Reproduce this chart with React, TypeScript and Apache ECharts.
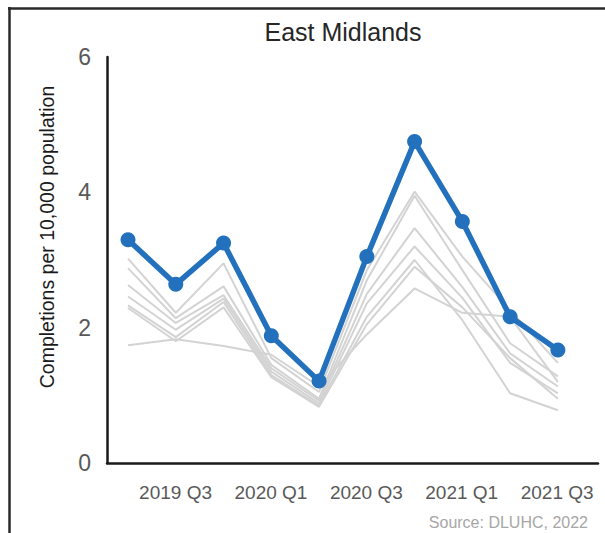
import React, { useEffect, useRef } from "react";
import * as echarts from "echarts";

const categories = ["2019 Q2", "2019 Q3", "2019 Q4", "2020 Q1", "2020 Q2", "2020 Q3", "2020 Q4", "2021 Q1", "2021 Q2", "2021 Q3"];
const eastMidlands = [3.3, 2.64, 3.25, 1.88, 1.21, 3.05, 4.75, 3.57, 2.16, 1.67];
const otherRegion1 = [3.02, 2.22, 2.95, 1.55, 1.05, 2.85, 4.01, 3.05, 2.26, 1.48];
const otherRegion2 = [2.88, 2.14, 2.61, 1.45, 0.95, 2.7, 3.95, 2.85, 1.77, 1.28];
const otherRegion3 = [2.63, 2.07, 2.48, 1.4, 0.92, 2.5, 3.47, 2.6, 1.62, 1.13];
const otherRegion4 = [2.46, 1.97, 2.43, 1.35, 0.88, 2.36, 3.2, 2.44, 1.48, 1.03];
const otherRegion5 = [2.33, 1.86, 2.38, 1.3, 0.85, 2.16, 3.0, 2.11, 1.03, 0.78];
const otherRegion6 = [2.29, 1.8, 2.3, 1.27, 0.83, 2.05, 2.9, 2.3, 1.55, 0.95];
const otherRegion7 = [1.74, 1.83, 1.73, 1.6, 1.13, 1.9, 2.58, 2.22, 2.16, 1.2];
const otherRegions = [otherRegion1, otherRegion2, otherRegion3, otherRegion4, otherRegion5, otherRegion6, otherRegion7];
const yTicks = [0, 2, 4, 6];

const FONT = "'Liberation Sans', Arial, sans-serif";

export default function App() {
  const ref = useRef<HTMLDivElement>(null);
  useEffect(() => {
    if (!ref.current) return;
    const chart = echarts.init(ref.current, null, { renderer: "svg" });
    const greySeries = otherRegions.map((vals, k) => ({
      type: "line",
      name: "Other region " + (k + 1),
      xAxisIndex: 0,
      yAxisIndex: 0,
      data: vals.map((v, i) => [i, v]),
      symbol: "none",
      silent: true,
      z: 2,
      lineStyle: { color: "#d3d3d3", width: 2 },
    }));
    chart.setOption({
      animation: false,
      backgroundColor: "#ffffff",
      title: {
        text: "East Midlands",
        left: 338,
        top: 14,
        textAlign: "center",
        textStyle: { fontFamily: FONT, fontSize: 25, fontWeight: "normal", color: "#262626" },
      },
      grid: [
        { left: 107, right: 7, top: 57, bottom: 70 },
        { left: 104, right: 24, top: 57, bottom: 70 },
      ],
      xAxis: [
        {
          type: "value",
          gridIndex: 0,
          min: -0.44,
          max: 9.84,
          axisLine: { show: true, onZero: false, lineStyle: { color: "#1a1a1a", width: 2.5 } },
          axisTick: { show: false },
          axisLabel: { show: false },
          splitLine: { show: false },
        },
        {
          type: "category",
          gridIndex: 1,
          data: categories,
          boundaryGap: true,
          axisLine: { show: false },
          axisTick: { show: false },
          splitLine: { show: false },
          axisLabel: {
            interval: 0,
            formatter: (v: string, i: number) => (i % 2 === 1 ? v : ""),
            fontFamily: FONT,
            fontSize: 19,
            color: "#595959",
            margin: 20,
          },
        },
      ],
      yAxis: [
        {
          type: "value",
          gridIndex: 0,
          min: yTicks[0],
          max: yTicks[yTicks.length - 1],
          interval: 2,
          axisLine: { show: true, onZero: false, lineStyle: { color: "#1a1a1a", width: 2.5 } },
          axisTick: { show: false },
          splitLine: { show: false },
          axisLabel: { fontFamily: FONT, fontSize: 23, color: "#595959", margin: 16 },
        },
        { type: "value", gridIndex: 1, min: 0, max: 6, show: false },
      ],
      graphic: [
        { type: "line", shape: { x1: 9.5, y1: 7, x2: 9.5, y2: 533 }, style: { stroke: "#2a2a2a", lineWidth: 2.5 } },
        { type: "line", shape: { x1: 8, y1: 8.5, x2: 605, y2: 8.5 }, style: { stroke: "#2a2a2a", lineWidth: 2.5 } },
        {
          type: "text",
          x: 47,
          y: 237,
          rotation: Math.PI / 2,
          style: {
            text: "Completions per 10,000 population",
            textAlign: "center",
            textVerticalAlign: "middle",
            font: "19.5px " + FONT,
            fill: "#1a1a1a",
          },
        },
        {
          type: "text",
          x: 588,
          y: 522,
          style: {
            text: "Source: DLUHC, 2022",
            textAlign: "right",
            textVerticalAlign: "middle",
            font: "16px " + FONT,
            fill: "#a6a6a6",
          },
        },
      ],
      series: [
        ...greySeries,
        {
          type: "line",
          name: "East Midlands",
          xAxisIndex: 0,
          yAxisIndex: 0,
          data: eastMidlands.map((v, i) => [i, v]),
          symbol: "circle",
          symbolSize: 15,
          z: 5,
          lineStyle: { color: "#2371bd", width: 5.5 },
          itemStyle: { color: "#2371bd" },
        },
      ],
    });
    return () => chart.dispose();
  }, []);
  return <div ref={ref} style={{ position: "absolute", left: 0, top: 0, width: 605, height: 533 }} />;
}
